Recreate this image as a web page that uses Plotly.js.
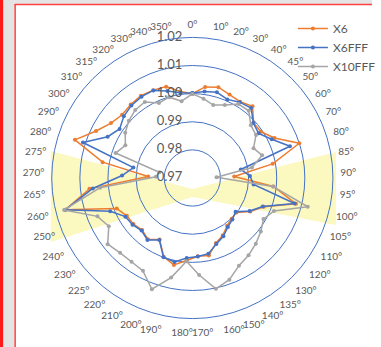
<!DOCTYPE html>
<html>
<head>
<meta charset="utf-8">
<script src="https://cdn.plot.ly/plotly-3.0.1.min.js"></script>
<style>
html,body{margin:0;padding:0;background:#fff;}
#chart{width:381px;height:347px;}
</style>
</head>
<body>
<div id="chart"></div>
<script>
const categories = ['0°','10°','20°','30°','40°','45°','50°','60°','70°','80°','85°','90°','95°','100°','105°','110°','120°','130°','135°','140°','150°','160°','170°','180°','190°','200°','210°','220°','225°','230°','240°','250°','260°','265°','270°','275°','280°','290°','300°','310°','315°','320°','330°','340°','350°'];

const x6 = [1.0000,1.0027,1.0036,1.0025,1.0020,1.0033,0.9993,0.9994,1.0025,1.0100,0.9990,0.9849,0.9990,1.0080,0.9974,0.9938,0.9899,0.9901,0.9910,0.9931,0.9946,0.9982,0.9979,0.9994,1.0016,0.9998,0.9948,0.9969,0.9957,0.9966,0.9969,0.9990,1.0166,1.0068,0.9857,1.0024,1.0139,1.0081,1.0049,1.0036,1.0041,1.0045,1.0042,1.0038,1.0011];

const x6fff = [1.0002,1.0011,1.0017,1.0006,1.0018,1.0025,0.9992,0.9984,1.0014,1.0065,0.9875,0.9905,0.9919,1.0075,0.9970,0.9935,0.9895,0.9905,0.9915,0.9935,0.9950,0.9975,0.9980,0.9985,1.0005,1.0000,0.9950,0.9972,0.9960,0.9970,0.9975,1.0015,1.0165,1.0056,0.9950,0.9913,1.0109,1.0035,1.0012,1.0028,1.0037,1.0041,1.0041,1.0022,1.0006];

const x10fff = [0.9999,0.9985,0.9970,0.9984,1.0010,1.0012,0.9980,0.9973,0.9942,0.9961,0.9915,0.9786,0.9988,1.0123,1.0013,0.9992,1.0009,1.0025,1.0040,1.0053,1.0085,1.0103,1.0046,0.9997,1.0062,1.0121,1.0074,1.0068,1.0070,1.0082,1.0043,1.0064,1.0170,1.0030,0.9830,0.9819,0.9987,0.9965,0.9988,1.0004,1.0016,1.0019,0.9992,0.9999,0.9976];

const radialTicks = [0.97,0.98,0.99,1.00,1.01,1.02];
const radialLabels = ['0.97','0.98','0.99','1.00','1.01','1.02'];

const seriesNames = ['X6','X6FFF','X10FFF'];
const seriesColors = ['#ED7D31','#4472C4','#A5A5A5'];
const seriesData = [x6, x6fff, x10fff];

const W = 381, H = 347;
const px = v => v / W;
const py = v => 1 - v / H;

const traces = seriesData.map((vals, i) => ({
  type: 'scatterpolar',
  mode: 'lines+markers',
  name: seriesNames[i],
  theta: categories.concat([categories[0]]),
  r: vals.concat([vals[0]]),
  line: {color: seriesColors[i], width: 1.5},
  marker: {color: seriesColors[i], size: 4},
  cliponaxis: false
}));

// radial axis labels drawn along the 0° spoke, horizontal, left of it
traces.push({
  type: 'scatterpolar',
  mode: 'text',
  showlegend: false,
  theta: radialTicks.map(() => categories[0]),
  r: radialTicks,
  text: radialLabels.map(t => t + '\u00a0\u00a0\u00a0'),
  textposition: 'middle left',
  textfont: {size: 13, color: '#595959'},
  cliponaxis: false,
  hoverinfo: 'skip'
});

const band = `M ${px(52)} ${py(151)} L ${px(197)} ${py(189)} L ${px(344)} ${py(152)} L ${px(344)} ${py(225)} L ${px(197)} ${py(197)} L ${px(52)} ${py(242)} Z`;

const layout = {
  width: W, height: H,
  margin: {l: 0, r: 0, t: 0, b: 0},
  paper_bgcolor: '#ffffff',
  font: {family: 'Lato, "Liberation Sans", Arial, sans-serif', color: '#595959'},
  showlegend: true,
  legend: {
    x: px(300), y: py(14), xanchor: 'left', yanchor: 'top',
    font: {size: 12, color: '#595959'},
    bgcolor: 'rgba(0,0,0,0)'
  },
  polar: {
    domain: {x: [px(53), px(341)], y: [py(322), py(34)]},
    bgcolor: 'rgba(0,0,0,0)',
    angularaxis: {
      type: 'category',
      categoryarray: categories,
      direction: 'clockwise',
      rotation: 90,
      showgrid: false,
      showline: true,
      linecolor: '#4472C4',
      linewidth: 1,
      ticks: 'outside',
      ticklen: 5,
      tickcolor: 'rgba(0,0,0,0)',
      tickfont: {size: 10, color: '#595959'}
    },
    radialaxis: {
      range: [0.97, 1.02],
      tickvals: radialTicks,
      angle: 90,
      showticklabels: false,
      showline: false,
      ticks: '',
      gridcolor: '#4472C4',
      gridwidth: 1
    }
  },
  shapes: [
    {type: 'path', path: band, xref: 'paper', yref: 'paper', fillcolor: 'rgba(248,242,130,0.5)', line: {width: 0}, layer: 'below'},
    {type: 'rect', xref: 'paper', yref: 'paper', x0: 0, x1: px(3.5), y0: 0, y1: 1, fillcolor: '#ff1a1a', line: {width: 0}},
    {type: 'rect', xref: 'paper', yref: 'paper', x0: px(3.5), x1: px(15), y0: 0, y1: 1, fillcolor: '#e4e4e4', line: {width: 0}},
    {type: 'rect', xref: 'paper', yref: 'paper', x0: px(15), x1: 1, y0: py(4), y1: 1, fillcolor: '#e4e4e4', line: {width: 0}},
    {type: 'line', xref: 'paper', yref: 'paper', x0: px(15.5), x1: px(15.5), y0: 0, y1: py(4), line: {color: '#ff4040', width: 1.5}},
    {type: 'line', xref: 'paper', yref: 'paper', x0: px(15), x1: 1, y0: py(4.5), y1: py(4.5), line: {color: '#ff4040', width: 1.5}}
  ]
};

Plotly.newPlot('chart', traces, layout, {displayModeBar: false, staticPlot: true});
</script>
</body>
</html>
